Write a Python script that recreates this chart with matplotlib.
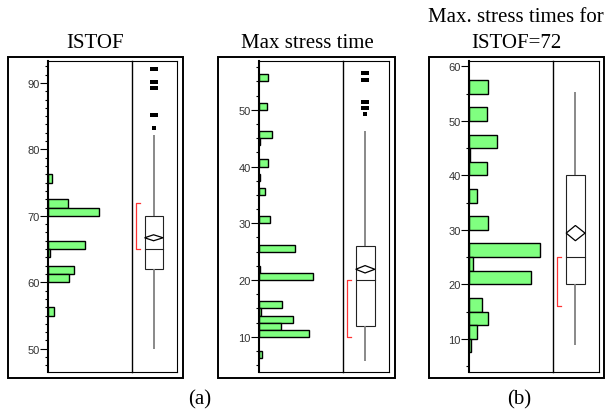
import matplotlib
matplotlib.use("Agg")
import matplotlib.pyplot as plt
from matplotlib.patches import Rectangle, Polygon
from matplotlib.ticker import MultipleLocator

W, H = 608, 414

# ---------------- data ----------------
# Panel (a) left: ISTOF
istof_bin_lo = [75.0, 71.25, 70.0, 65.0, 63.75, 61.25, 60.0, 55.0]
istof_counts = [2.2, 10.2, 25.7, 18.5, 1.0, 13.0, 10.5, 3.2]
istof_binw = 1.25
istof_box = dict(q1=62.0, med=65.0, q3=70.0, wlo=49.9, whi=82.2,
                 mean=66.7, ci=0.45, sh_lo=65.0, sh_hi=72.0)
istof_out_pairs = [92.1, 90.2, 89.2, 85.2]
istof_out_single = [83.2]

# Panel (a) right: Max stress time
mst_bin_lo = [55.0, 50.0, 45.0, 43.75, 40.0, 37.5, 35.0, 30.0, 25.0, 21.25,
              20.0, 15.0, 13.75, 12.5, 11.25, 10.0, 6.25]
mst_counts = [4.7, 4.2, 6.4, 0.6, 4.7, 0.6, 3.2, 5.7, 17.9, 0.6,
              27.2, 11.4, 1.0, 17.2, 10.9, 25.2, 1.4]
mst_binw = 1.25
mst_box = dict(q1=11.9, med=20.0, q3=26.0, wlo=5.7, whi=46.3,
               mean=21.9, ci=0.65, sh_lo=10.0, sh_hi=20.0)
mst_out_pairs = [56.5, 55.3, 51.4, 50.3]
mst_out_single = [49.3]

# Panel (b): Max stress times for ISTOF=72
m72_bin_lo = [55.0, 50.0, 45.0, 42.5, 40.0, 35.0, 30.0, 25.0, 22.5, 20.0,
              15.0, 12.5, 10.0, 7.5]
m72_counts = [9.7, 9.2, 13.9, 0.5, 8.9, 3.9, 9.7, 35.7, 2.2, 30.9,
              6.7, 9.7, 3.9, 0.8]
m72_binw = 2.5
m72_box = dict(q1=20.1, med=25.0, q3=40.1, wlo=8.9, whi=55.4,
               mean=29.4, ci=1.4, sh_lo=16.1, sh_hi=25.0)

titles = [["ISTOF"], ["Max stress time"], ["Max. stress times for", "ISTOF=72"]]
sub_labels = ["(a)", "(b)"]

# ---------------- layout ----------------
panels = [
    dict(frame=(8, 58, 183, 379), hx=(48, 132), bx=(132, 177), y=(62, 373),
         ylim=(46.5, 93.3), major=10, minor=1.25, xmax=42,
         lo=istof_bin_lo, cnt=istof_counts, bw=istof_binw, box=istof_box,
         op=istof_out_pairs, os=istof_out_single, tx=95),
    dict(frame=(218, 58, 395, 379), hx=(259, 342.7), bx=(342.7, 389.3), y=(62, 373),
         ylim=(3.8, 58.6), major=10, minor=2.5, xmax=41.9,
         lo=mst_bin_lo, cnt=mst_counts, bw=mst_binw, box=mst_box,
         op=mst_out_pairs, os=mst_out_single, tx=307),
    dict(frame=(429, 58, 604, 379), hx=(469, 553.3), bx=(553.3, 599.3), y=(62, 373),
         ylim=(3.9, 61.0), major=10, minor=5, xmax=42.2,
         lo=m72_bin_lo, cnt=m72_counts, bw=m72_binw, box=m72_box,
         op=[], os=[], tx=516),
]

fig = plt.figure(figsize=(W / 100, H / 100), dpi=100)
fig.patch.set_facecolor("white")


def rect(x0, x1, y0, y1):
    return [x0 / W, 1 - y1 / H, (x1 - x0) / W, (y1 - y0) / H]


sans = ["Liberation Sans", "DejaVu Sans"]
serif = ["Liberation Serif", "DejaVu Serif"]

for i, p in enumerate(panels):
    fx0, fy0, fx1, fy1 = p["frame"]
    fig.patches.append(Rectangle((fx0 / W, 1 - fy1 / H), (fx1 - fx0) / W, (fy1 - fy0) / H,
                                 transform=fig.transFigure, fill=False,
                                 edgecolor="black", linewidth=1.4))
    y0, y1 = p["y"]
    # histogram axes
    ah = fig.add_axes(rect(p["hx"][0], p["hx"][1], y0, y1))
    ah.barh([lo + p["bw"] / 2 for lo in p["lo"]], p["cnt"], height=p["bw"], left=0,
            color="#80ff80", edgecolor="black", linewidth=1.0)
    ah.set_xlim(0, p["xmax"])
    ah.set_ylim(*p["ylim"])
    ah.yaxis.set_major_locator(MultipleLocator(p["major"]))
    ah.yaxis.set_minor_locator(MultipleLocator(p["minor"]))
    ah.tick_params(axis="y", which="major", direction="out", length=5.5, width=0.8,
                   pad=0.5, labelsize=8, labelcolor="#333333")
    ah.tick_params(axis="y", which="minor", direction="out", length=2.2, width=0.8)
    for lab in ah.get_yticklabels():
        lab.set_family(sans)
    ah.set_xticks([])
    ah.spines["left"].set_linewidth(1.5)
    ah.spines["top"].set_linewidth(0.8)
    ah.spines["bottom"].set_linewidth(0.8)
    ah.spines["right"].set_linewidth(1.0)
    ah.spines["right"].set_color("black")

    # box plot axes
    ab = fig.add_axes(rect(p["bx"][0], p["bx"][1], y0, y1))
    ab.set_xlim(0, 1)
    ab.set_ylim(*p["ylim"])
    ab.set_xticks([])
    ab.set_yticks([])
    ab.patch.set_alpha(0)
    for s in ab.spines.values():
        s.set_linewidth(0.8)
    ab.spines["left"].set_visible(False)
    b = p["box"]
    xc, bl, br = 0.48, 0.28, 0.69
    ab.plot([xc, xc], [b["wlo"], b["q1"]], color="#808080", lw=1.3, solid_capstyle="butt")
    ab.plot([xc, xc], [b["q3"], b["whi"]], color="#808080", lw=1.3, solid_capstyle="butt")
    ab.add_patch(Rectangle((bl, b["q1"]), br - bl, b["q3"] - b["q1"], fill=False,
                           edgecolor="#222222", linewidth=0.8))
    ab.plot([bl, br], [b["med"], b["med"]], color="#222222", lw=0.8)
    ab.add_patch(Polygon([(bl, b["mean"]), (xc, b["mean"] + b["ci"]),
                          (br, b["mean"]), (xc, b["mean"] - b["ci"])],
                         closed=True, facecolor="white", edgecolor="black", linewidth=0.9))
    # shortest half bracket
    rx, cap = 0.09, 0.08
    ab.plot([rx + cap, rx, rx, rx + cap], [b["sh_lo"], b["sh_lo"], b["sh_hi"], b["sh_hi"]],
            color="#ff3333", lw=0.9)
    # outliers
    if p["op"]:
        ab.plot([xc - 0.045] * len(p["op"]), p["op"], "s", color="black", ms=2.6, mew=0)
        ab.plot([xc + 0.045] * len(p["op"]), p["op"], "s", color="black", ms=2.6, mew=0)
    if p["os"]:
        ab.plot([xc] * len(p["os"]), p["os"], "s", color="black", ms=2.4, mew=0)

    # titles
    lines = titles[i]
    if len(lines) == 1:
        fig.text(p["tx"] / W, 1 - 43 / H, lines[0], ha="center", va="center",
                 family=serif, fontsize=15)
    else:
        fig.text(p["tx"] / W, 1 - 18 / H, lines[0], ha="center", va="center",
                 family=serif, fontsize=15)
        fig.text(p["tx"] / W, 1 - 43 / H, lines[1], ha="center", va="center",
                 family=serif, fontsize=15)

fig.text(200 / W, 1 - 400 / H, sub_labels[0], ha="center", va="center", family=serif, fontsize=15)
fig.text(519 / W, 1 - 400 / H, sub_labels[1], ha="center", va="center", family=serif, fontsize=15)

fig.savefig("out.png", dpi=100)
